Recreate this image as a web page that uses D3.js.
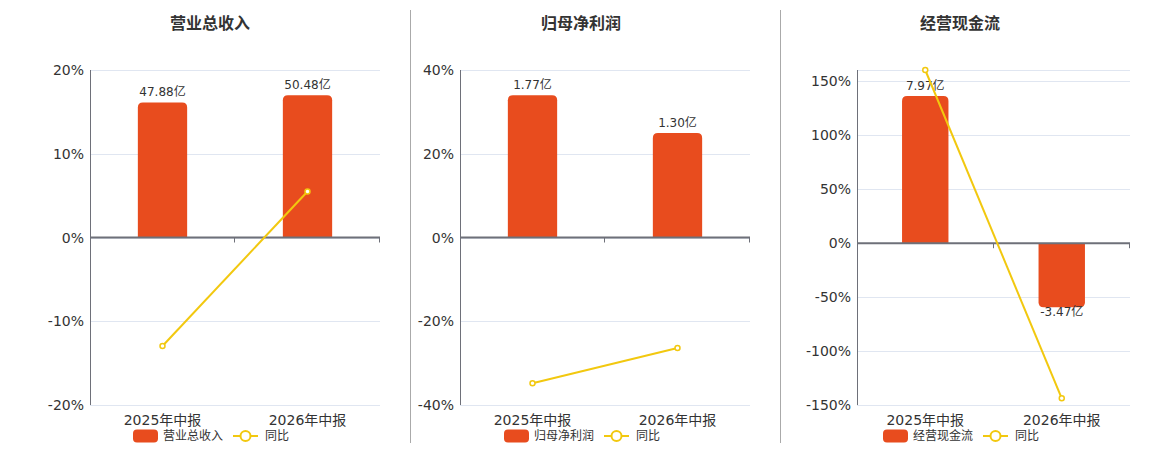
<!DOCTYPE html>
<html>
<head>
<meta charset="utf-8">
<script src="https://cdn.jsdelivr.net/npm/d3@7"></script>
<style>
  body { margin: 0; background: #fff; }
  text { font-family: "DejaVu Sans", "Noto Sans CJK SC", sans-serif; }
</style>
</head>
<body>
<svg id="chart" width="1160" height="450"></svg>
<script>
// DATA
var categories = ['2025年中报', '2026年中报'];
var titles = ['营业总收入', '归母净利润', '经营现金流'];
var barValues = [[47.88, 50.48], [1.77, 1.30], [7.97, -3.47]];
var barLabels = [['47.88亿', '50.48亿'], ['1.77亿', '1.30亿'], ['7.97亿', '-3.47亿']];
var yoyValues = [[-12.96, 5.49], [-34.8, -26.4], [160.6, -143.8]];
var yDomains = [[-20, 20], [-40, 40], [-150, 160.6]];
var yTicks = [[-20, -10, 0, 10, 20], [-40, -20, 0, 20, 40], [-150, -100, -50, 0, 50, 100, 150]];
var legendYoy = '同比';

// LAYOUT
var panels = [
    {left: 90, right: 380, center: 210},
    {left: 460, right: 750, center: 581},
    {left: 857, right: 1130, center: 960}
];
var plotTop = 70, plotBottom = 405;
var barColor = '#E84C1E';
var lineColor = '#F2C80F';
var gridColor = '#E0E6F1';
var axisColor = '#6E7079';
var textColor = '#333';

var svg = d3.select('#chart');

// dividers
[410, 780].forEach(function(x) {
    svg.append('line')
       .attr('x1', x + 0.5).attr('x2', x + 0.5)
       .attr('y1', 10).attr('y2', 443)
       .style('stroke', '#aaa')
       .style('stroke-width', 1);
});

function barPath(x, w, y0, y1, r) {
    // rounded corners only on the outer end of the bar
    var h = Math.abs(y1 - y0);
    r = Math.min(r, h, w / 2);
    var s = y1 < y0 ? 1 : -1;
    return 'M' + x + ',' + y0 + 'V' + (y1 + s * r) +
           'Q' + x + ',' + y1 + ' ' + (x + r) + ',' + y1 +
           'H' + (x + w - r) +
           'Q' + (x + w) + ',' + y1 + ' ' + (x + w) + ',' + (y1 + s * r) +
           'V' + y0 + 'Z';
}

panels.forEach(function(p, i) {
    var g = svg.append('g');

    var x = d3.scaleBand().domain(categories).range([p.left, p.right]).paddingInner(0).paddingOuter(0);
    var y = d3.scaleLinear().domain(yDomains[i]).range([plotBottom, plotTop]);
    // hidden axis for the bars, zero aligned with the percent axis
    var maxAbs = d3.max(barValues[i], function(d) { return Math.abs(d); });
    var yBar = d3.scaleLinear().domain([0, maxAbs / 0.85]).range([y(0), plotTop]);

    // Title
    g.append('text')
     .attr('x', p.center)
     .attr('y', 29)
     .attr('text-anchor', 'middle')
     .style('font-size', '16px')
     .style('font-weight', 'bold')
     .style('fill', textColor)
     .text(titles[i]);

    // Grid lines
    var gridVals = yTicks[i].slice();
    if (gridVals.indexOf(yDomains[i][1]) < 0) gridVals.push(yDomains[i][1]);
    g.selectAll('line.grid')
     .data(gridVals)
     .enter().append('line')
     .attr('class', 'grid')
     .attr('x1', p.left).attr('x2', p.right)
     .attr('y1', function(d) { return Math.round(y(d)) + 0.5; })
     .attr('y2', function(d) { return Math.round(y(d)) + 0.5; })
     .style('stroke', gridColor)
     .style('stroke-width', 1);

    // Y axis labels
    g.selectAll('text.ylab')
     .data(yTicks[i])
     .enter().append('text')
     .attr('class', 'ylab')
     .attr('x', p.left - 6)
     .attr('y', function(d) { return y(d); })
     .attr('dy', '0.36em')
     .attr('text-anchor', 'end')
     .style('font-size', '14px')
     .style('fill', textColor)
     .text(function(d) { return d + '%'; });

    // Left axis line
    g.append('line')
     .attr('x1', p.left + 0.5).attr('x2', p.left + 0.5)
     .attr('y1', plotTop).attr('y2', plotBottom)
     .style('stroke', axisColor)
     .style('stroke-width', 1);

    // Bars
    var bw = x.bandwidth() * 0.34;
    g.selectAll('path.bar')
     .data(barValues[i])
     .enter().append('path')
     .attr('class', 'bar')
     .attr('d', function(d, j) {
         var cx = x(categories[j]) + x.bandwidth() / 2;
         return barPath(cx - bw / 2, bw, y(0), yBar(d), 5);
     })
     .style('fill', barColor);

    // Bar labels
    g.selectAll('text.blab')
     .data(barValues[i])
     .enter().append('text')
     .attr('class', 'blab')
     .attr('x', function(d, j) { return x(categories[j]) + x.bandwidth() / 2; })
     .attr('y', function(d) { return d >= 0 ? yBar(d) - 6 : yBar(d) + 9; })
     .attr('text-anchor', 'middle')
     .style('font-size', '12px')
     .style('fill', textColor)
     .text(function(d, j) { return barLabels[i][j]; });

    // Zero axis line with ticks
    g.append('line')
     .attr('x1', p.left).attr('x2', p.right)
     .attr('y1', y(0)).attr('y2', y(0))
     .style('stroke', axisColor)
     .style('stroke-width', 2);
    var tickXs = categories.map(function(c) { return x(c); }).concat([p.right]);
    g.selectAll('line.xtick')
     .data(tickXs.slice(1))
     .enter().append('line')
     .attr('class', 'xtick')
     .attr('x1', function(d) { return Math.round(d) - 0.5; })
     .attr('x2', function(d) { return Math.round(d) - 0.5; })
     .attr('y1', y(0)).attr('y2', y(0) + 5)
     .style('stroke', axisColor)
     .style('stroke-width', 1);

    // X labels
    g.selectAll('text.xlab')
     .data(categories)
     .enter().append('text')
     .attr('class', 'xlab')
     .attr('x', function(d) { return x(d) + x.bandwidth() / 2; })
     .attr('y', 425)
     .attr('text-anchor', 'middle')
     .style('font-size', '14px')
     .style('fill', textColor)
     .text(function(d) { return d; });

    // YoY line
    var line = d3.line()
        .x(function(d, j) { return x(categories[j]) + x.bandwidth() / 2; })
        .y(function(d) { return y(d); });
    g.append('path')
     .datum(yoyValues[i])
     .attr('d', line)
     .style('fill', 'none')
     .style('stroke', lineColor)
     .style('stroke-width', 2);
    g.selectAll('circle.pt')
     .data(yoyValues[i])
     .enter().append('circle')
     .attr('class', 'pt')
     .attr('cx', function(d, j) { return x(categories[j]) + x.bandwidth() / 2; })
     .attr('cy', function(d) { return y(d); })
     .attr('r', 2.5)
     .style('fill', '#fff')
     .style('stroke', lineColor)
     .style('stroke-width', 1.5);

    // Legend
    var lg = g.append('g').attr('transform', 'translate(' + (p.center - 77) + ',436)');
    lg.append('rect')
      .attr('x', 0).attr('y', -6.5)
      .attr('width', 25).attr('height', 13)
      .attr('rx', 4)
      .style('fill', barColor);
    lg.append('text')
      .attr('x', 30).attr('y', 0).attr('dy', '0.36em')
      .style('font-size', '12px')
      .style('fill', textColor)
      .text(titles[i]);
    lg.append('line')
      .attr('x1', 100).attr('x2', 125)
      .attr('y1', 0).attr('y2', 0)
      .style('stroke', lineColor)
      .style('stroke-width', 2);
    lg.append('circle')
      .attr('cx', 112.5).attr('cy', 0).attr('r', 5)
      .style('fill', '#fff')
      .style('stroke', lineColor)
      .style('stroke-width', 2);
    lg.append('text')
      .attr('x', 132).attr('y', 0).attr('dy', '0.36em')
      .style('font-size', '12px')
      .style('fill', textColor)
      .text(legendYoy);
});
</script>
</body>
</html>
